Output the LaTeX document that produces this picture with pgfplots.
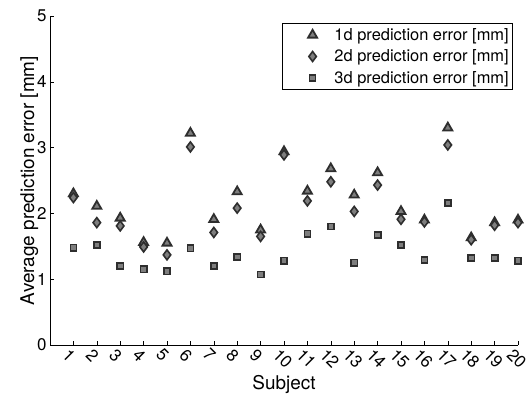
\documentclass[border=0pt]{standalone}
\usepackage{fontspec}
\setmainfont{TeX Gyre Heros}
\usepackage{pgfplots}
\pgfplotsset{compat=1.18}
\usepackage{pgfplotstable}
\definecolor{edge}{HTML}{2E2E2E}
\definecolor{fillg}{HTML}{7E7E7E}
\pgfplotstableread{
s one two three
1 2.30 2.24 1.48
2 2.11 1.86 1.52
3 1.93 1.81 1.20
4 1.56 1.49 1.15
5 1.55 1.37 1.12
6 3.22 3.01 1.47
7 1.91 1.71 1.20
8 2.33 2.08 1.34
9 1.75 1.65 1.07
10 2.94 2.89 1.28
11 2.34 2.19 1.69
12 2.68 2.48 1.80
13 2.28 2.03 1.25
14 2.62 2.43 1.67
15 2.03 1.91 1.52
16 1.90 1.87 1.29
17 3.30 3.04 2.16
18 1.63 1.60 1.32
19 1.86 1.82 1.32
20 1.90 1.86 1.28
}\datatable
\pgfplotsset{myleg/.style={legend image code/.code={\path (-27bp,0bp) (19bp,0bp); \draw[##1] plot coordinates {(0bp,0bp)};}}}
\begin{document}
\begin{tikzpicture}
\begin{axis}[
  scale only axis, width=468bp, height=329bp,
  xmin=0, xmax=20, ymin=0, ymax=5,
  axis lines=left, axis line style={-, line width=0.6bp},
  tick align=inside, major tick length=4bp,
  tick style={line width=0.6bp, black},
  xtick={1,...,20}, ytick={0,1,2,3,4,5},
  /pgf/number format/assume math mode=true,
  ticklabel style={font=\fontsize{17}{17}\selectfont},
  xticklabel style={rotate=-45, anchor=north west, inner sep=0pt, xshift=-0.8bp, yshift=-4.2bp},
  xlabel={Subject}, ylabel={Average prediction error [mm]},
  label style={font=\fontsize{19}{19}\selectfont},
  xlabel style={yshift=-2bp},
  ylabel style={yshift=-8bp},
  legend style={at={(1,1)}, anchor=north east, xshift=-5bp, yshift=-7bp,
    font=\fontsize{16.5}{19.5}\selectfont, draw=black, line width=0.6bp,
    inner xsep=2bp, inner ysep=3bp, row sep=4bp},
  legend cell align=left,
]
\addplot[only marks, myleg, mark=triangle*, mark size=5.2bp, draw=edge, fill=fillg, line width=1.8bp] table[x=s,y=one]{\datatable};
\addplot[only marks, myleg, mark=diamond*, mark size=5bp, draw=edge, fill=fillg, line width=1.6bp] table[x=s,y=two]{\datatable};
\addplot[only marks, myleg, mark=square*, mark size=3.1bp, draw=edge, fill=fillg, line width=1.6bp] table[x=s,y=three]{\datatable};
\legend{1d prediction error [mm], 2d prediction error [mm], 3d prediction error [mm]}
\end{axis}
\useasboundingbox (-50bp,-60bp) rectangle (479bp,345bp);
\end{tikzpicture}
\end{document}
